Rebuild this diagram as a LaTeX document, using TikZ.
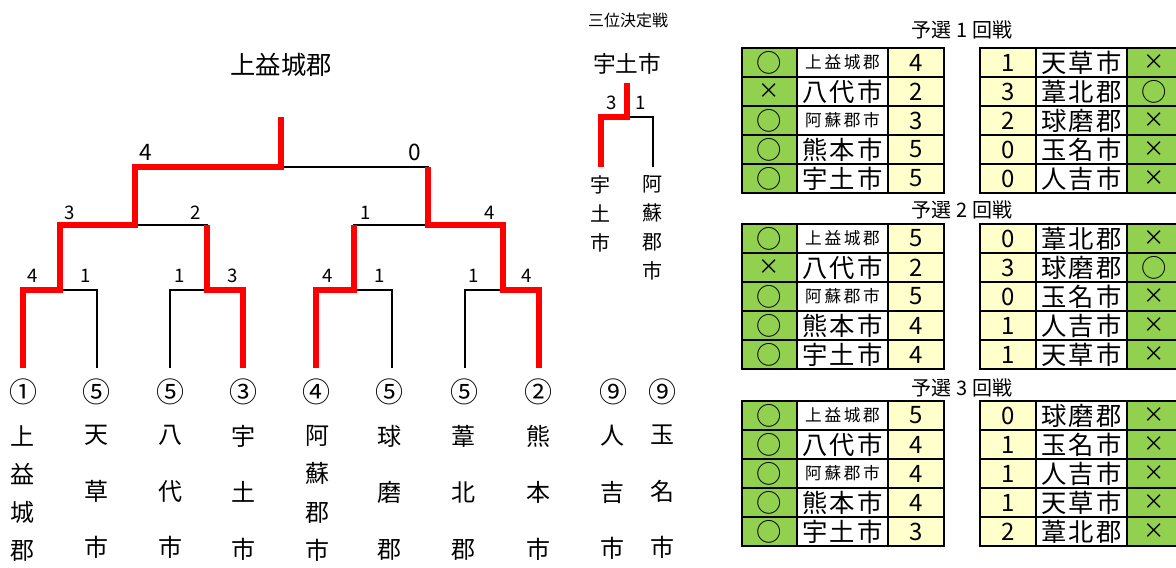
\documentclass[tikz,border=0pt]{standalone}
\usepackage{fontspec}
\setmainfont{Noto Sans CJK JP}
\usetikzlibrary{positioning}
\definecolor{cellgreen}{RGB}{146,208,80}
\definecolor{cellyellow}{RGB}{255,255,204}
\newcommand\fs[1]{\fontsize{#1}{#1}\selectfont}
\newcommand\wname[3]{{\fs{19pt}\makebox[60pt][s]{#1\hfill#2\hfill#3}}}
\newcommand\sname[4]{{\fs{12.5pt}\makebox[56pt][s]{#1\hfill#2\hfill#3\hfill#4}}}
\newcommand\maru{{\fs{19pt}○}}
\tikzset{
  lose/.style={line width=1.3pt},
  win/.style={line width=3.8pt, red, line join=miter},
  score/.style={font=\fs{14pt}, inner sep=0pt},
  bigscore/.style={font=\fs{17pt}, inner sep=0pt},
  seed/.style={font=\fs{21pt}, inner sep=0pt},
  tallname/.style={font={\fontsize{18pt}{28.7pt}\selectfont}, align=center, anchor=north, inner sep=0pt},
  shortname/.style={font={\fontsize{18pt}{42.4pt}\selectfont}, align=center, anchor=north, inner sep=0pt},
  smallname/.style={font={\fontsize{15pt}{21.75pt}\selectfont}, align=center, anchor=north, inner sep=0pt},
  title/.style={font=\fs{15pt}, inner sep=0pt},
  cell/.style={draw, line width=1.3pt, inner sep=0pt, outer sep=0pt, minimum height=21.75pt},
  markcell/.style={cell, fill=cellgreen, minimum width=41.25pt, font=\fs{16pt}},
  namecell/.style={cell, fill=white, minimum width=68.25pt},
  ptcell/.style={cell, fill=cellyellow, minimum width=42pt, font=\fs{18pt}}
}
\begin{document}
\begin{tikzpicture}[x=0.75pt, y=-0.75pt]
\useasboundingbox (0,0) rectangle (1176,567);

% bracket
\node[font=\fs{19pt}, inner sep=0pt] (champ) at (281,65) {上益城郡};
\coordinate (t) at (281,117);
\coordinate (f) at (281,167);
\coordinate (s1) at (135,225);
\coordinate (s2) at (428,225);
\coordinate (m1) at (60,290);
\coordinate (m2) at (207,290);
\coordinate (m3) at (354,290);
\coordinate (m4) at (503,290);
\foreach \x [count=\i] in {23,97,170,243,316,392,465,539}
  \coordinate (l\i) at (\x,368);

\draw[lose] (l2) |- (m1);
\draw[lose] (l3) |- (m2) |- (s1);
\draw[lose] (l6) |- (m3) |- (s2);
\draw[lose] (l7) |- (m4);
\draw[lose] (s2) |- (f);
\draw[win] (l1) |- (m1) |- (s1) |- (f) -- (t);
\draw[win] (l4) |- (m2) -- (m2 |- s1);
\draw[win] (l5) |- (m3) -- (m3 |- s2);
\draw[win] (l8) |- (m4) |- (s2) -- (s2 |- f);

\foreach \x/\v [count=\i] in {33/4,86/1,180/1,233/3,328/4,380/1,474/1,527/4}
  \node[score] (a\i) at (\x,276) {\v};
\foreach \x/\v [count=\i] in {70/3,196/2,366/1,490/4}
  \node[score] (b\i) at (\x,213) {\v};
\node[bigscore] (c1) at (146,152) {4};
\node[bigscore] (c2) at (415,152) {0};

% teams
\foreach \x/\c [count=\i] in {23/①,96/⑤,170/⑤,243/③,316/④,389/⑤,464/⑤,538/②,613/⑨,662/⑨}
  \node[seed] (seed\i) at (\x,392) {\c};
\node[tallname] (team1) at (22,425) {上\\益\\城\\郡};
\node[shortname] (team2) at (96,425) {天\\草\\市};
\node[shortname] (team3) at (170,425) {八\\代\\市};
\node[shortname] (team4) at (243,425) {宇\\土\\市};
\node[tallname] (team5) at (317,425) {阿\\蘇\\郡\\市};
\node[shortname] (team6) at (389,425) {球\\磨\\郡};
\node[shortname] (team7) at (463,425) {葦\\北\\郡};
\node[shortname] (team8) at (538,425) {熊\\本\\市};
\node[shortname] (team9) at (612,425) {人\\吉\\市};
\node[shortname] (team10) at (662,425) {玉\\名\\市};

% third place
\node[font=\fs{12pt}, inner sep=0pt] (third) at (628,20) {三位決定戦};
\node[font=\fs{17pt}, inner sep=0pt] (thirdwin) at (627,64) {宇土市};
\coordinate (q0) at (627,83);
\coordinate (q) at (627,117);
\coordinate (ql) at (601,167);
\coordinate (qr) at (653,167);
\draw[lose] (qr) |- (q);
\draw[win] (ql) |- (q) -- (q0);
\node[score] (d1) at (612,103) {3};
\node[score] (d2) at (641,103) {1};
\node[smallname] (qa) at (600,175) {宇\\土\\市};
\node[smallname] (qb) at (652,175) {阿\\蘇\\郡\\市};

% qualifying tables
\node[title] (h1) at (962,30) {予選 1 回戦};
\foreach \m/\n/\s [count=\i] in {\maru/\sname 上益城郡/4, ×/\wname 八代市/2, \maru/\sname 阿蘇郡市/3, \maru/\wname 熊本市/5, \maru/\wname 宇土市/5} {
  \node[markcell, anchor=north west] (ga1\i) at (742,{48+(\i-1)*29}) {\m};
  \node[namecell, right=0pt of ga1\i] (na1\i) {\n};
  \node[ptcell, right=0pt of na1\i] (pa1\i) {\s};
}
\foreach \s/\n/\m [count=\i] in {1/\wname 天草市/×, 3/\wname 葦北郡/\maru, 2/\wname 球磨郡/×, 0/\wname 玉名市/×, 0/\wname 人吉市/×} {
  \node[ptcell, anchor=north west] (pb1\i) at (980,{48+(\i-1)*29}) {\s};
  \node[namecell, right=0pt of pb1\i] (nb1\i) {\n};
  \node[markcell, right=0pt of nb1\i] (gb1\i) {\m};
}

\node[title] (h2) at (962,210) {予選 2 回戦};
\foreach \m/\n/\s [count=\i] in {\maru/\sname 上益城郡/5, ×/\wname 八代市/2, \maru/\sname 阿蘇郡市/5, \maru/\wname 熊本市/4, \maru/\wname 宇土市/4} {
  \node[markcell, anchor=north west] (ga2\i) at (742,{224+(\i-1)*29}) {\m};
  \node[namecell, right=0pt of ga2\i] (na2\i) {\n};
  \node[ptcell, right=0pt of na2\i] (pa2\i) {\s};
}
\foreach \s/\n/\m [count=\i] in {0/\wname 葦北郡/×, 3/\wname 球磨郡/\maru, 0/\wname 玉名市/×, 1/\wname 人吉市/×, 1/\wname 天草市/×} {
  \node[ptcell, anchor=north west] (pb2\i) at (980,{224+(\i-1)*29}) {\s};
  \node[namecell, right=0pt of pb2\i] (nb2\i) {\n};
  \node[markcell, right=0pt of nb2\i] (gb2\i) {\m};
}

\node[title] (h3) at (962,388) {予選 3 回戦};
\foreach \m/\n/\s [count=\i] in {\maru/\sname 上益城郡/5, \maru/\wname 八代市/4, \maru/\sname 阿蘇郡市/4, \maru/\wname 熊本市/4, \maru/\wname 宇土市/3} {
  \node[markcell, anchor=north west] (ga3\i) at (742,{401+(\i-1)*29}) {\m};
  \node[namecell, right=0pt of ga3\i] (na3\i) {\n};
  \node[ptcell, right=0pt of na3\i] (pa3\i) {\s};
}
\foreach \s/\n/\m [count=\i] in {0/\wname 球磨郡/×, 1/\wname 玉名市/×, 1/\wname 人吉市/×, 1/\wname 天草市/×, 2/\wname 葦北郡/×} {
  \node[ptcell, anchor=north west] (pb3\i) at (980,{401+(\i-1)*29}) {\s};
  \node[namecell, right=0pt of pb3\i] (nb3\i) {\n};
  \node[markcell, right=0pt of nb3\i] (gb3\i) {\m};
}
\end{tikzpicture}
\end{document}
